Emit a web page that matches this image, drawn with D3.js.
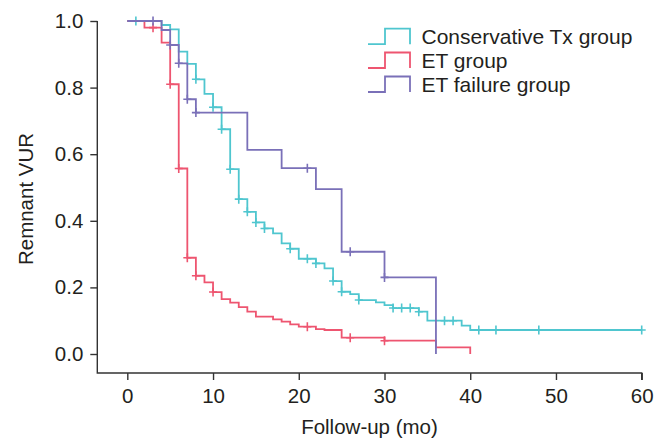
<!DOCTYPE html>
<html>
<head>
<meta charset="utf-8">
<script src="https://cdn.jsdelivr.net/npm/d3@7"></script>
<style>
  html, body { margin: 0; padding: 0; background: #fff; }
  svg { display: block; }
  text { font-family: "Liberation Sans", Arial, sans-serif; fill: #231f20; }
</style>
</head>
<body>
<svg id="chart" width="664" height="442"></svg>
<script>
// ---------- data ----------
const seriesNames = ["Conservative Tx group", "ET group", "ET failure group"];
const seriesColors = ["#4fc6cf", "#ee5570", "#7a70b8"];

// step times (months) and survival after each step
const ctxTimes = [0, 4, 5, 6, 7, 8, 9, 10, 11, 12, 13, 14, 15, 16, 17, 18, 19, 20, 22, 23, 24, 25, 26, 27, 29, 30, 31, 34, 35, 39, 40, 60];
const ctxSurv  = [1.0, 0.988, 0.975, 0.908, 0.871, 0.825, 0.781, 0.741, 0.675, 0.555, 0.465, 0.427, 0.395, 0.377, 0.362, 0.332, 0.316, 0.286, 0.272, 0.257, 0.219, 0.187, 0.18, 0.162, 0.155, 0.147, 0.138, 0.127, 0.1, 0.085, 0.072, 0.072];
const ctxCensor = [1, 8, 10, 11, 12, 13, 14, 15, 16, 19, 21, 22, 24, 25, 27, 31, 32, 33, 34, 37, 38, 41, 43, 48, 60];

const etTimes = [0, 2, 4, 5, 6, 7, 8, 9, 10, 11, 12, 13, 14, 15, 17, 18, 19, 20, 22, 23, 25, 30, 36, 40];
const etSurv  = [1.0, 0.98, 0.935, 0.81, 0.557, 0.289, 0.235, 0.215, 0.186, 0.165, 0.154, 0.141, 0.127, 0.112, 0.104, 0.097, 0.089, 0.082, 0.075, 0.072, 0.049, 0.04, 0.02, 0.0];
const etCensor = [3, 5, 6, 7, 8, 10, 21, 26, 30];

const failTimes = [0, 4, 5, 6, 7, 8, 14, 18, 22, 25, 30, 36];
const failSurv  = [1.0, 0.973, 0.928, 0.873, 0.765, 0.725, 0.613, 0.558, 0.495, 0.307, 0.23, 0.0];
const failCensor = [3, 5, 6, 7, 8, 21, 26, 30];

const xTicks = [0, 10, 20, 30, 40, 50, 60];
const yTicks = [0.0, 0.2, 0.4, 0.6, 0.8, 1.0];
const xTitle = "Follow-up (mo)";
const yTitle = "Remnant VUR";

// ---------- chart ----------
const svg = d3.select("#chart");
const x = d3.scaleLinear().domain([-3.5, 60]).range([97.3, 641.7]);
const y = d3.scaleLinear().domain([0, 1]).range([354, 21]);
const yBottom = 373;

const axisColor = "#333";

// axes
const gx = svg.append("g").attr("transform", `translate(0,${yBottom})`)
  .call(d3.axisBottom(x).tickValues(xTicks).tickFormat(d3.format("d")).tickSize(7).tickPadding(8).tickSizeOuter(0));
const gy = svg.append("g").attr("transform", `translate(${x(-3.5)},0)`)
  .call(d3.axisLeft(y).tickValues(yTicks).tickFormat(d3.format(".1f")).tickSize(7).tickPadding(7).tickSizeOuter(0));
[gx, gy].forEach(g => {
  g.select(".domain").remove();
  g.selectAll(".tick line").attr("stroke", axisColor).attr("stroke-width", 1.4);
  g.selectAll(".tick text").style("font-size", "20.5px").style("font-family", '"Liberation Sans", Arial, sans-serif').attr("fill", "#231f20");
});
// domain lines
svg.append("path")
  .attr("d", `M${x(-3.5)},${y(1)}V${yBottom}H${x(60)}V${yBottom + 7}`)
  .attr("fill", "none").attr("stroke", axisColor).attr("stroke-width", 1.4);

// titles
svg.append("text").attr("x", (x(-3.5) + x(60)) / 2).attr("y", 434)
  .attr("text-anchor", "middle").style("font-size", "20.5px").text(xTitle);
svg.append("text").attr("transform", `translate(33,${(y(1) + yBottom) / 2 + 2}) rotate(-90)`)
  .attr("text-anchor", "middle").style("font-size", "20.5px").text(yTitle);

// curves
const series = [
  { times: ctxTimes, surv: ctxSurv, censor: ctxCensor, color: seriesColors[0] },
  { times: etTimes, surv: etSurv, censor: etCensor, color: seriesColors[1] },
  { times: failTimes, surv: failSurv, censor: failCensor, color: seriesColors[2] }
];

function survAt(s, t) {
  let v = s.surv[0];
  for (let i = 0; i < s.times.length; i++) if (s.times[i] <= t) v = s.surv[i];
  return v;
}

const line = d3.line().x(d => x(d[0])).y(d => y(d[1])).curve(d3.curveStepAfter);

series.forEach(s => {
  const pts = s.times.map((t, i) => [t, s.surv[i]]);
  svg.append("path").attr("d", line(pts))
    .attr("fill", "none").attr("stroke", s.color).attr("stroke-width", 1.8);
  const g = svg.append("g");
  s.censor.forEach(t => {
    const cx = x(t), cy = y(survAt(s, t));
    g.append("path").attr("d", `M${cx - 4},${cy}H${cx + 4}M${cx},${cy - 4.5}V${cy + 4.5}`)
      .attr("stroke", s.color).attr("stroke-width", 1.6).attr("fill", "none");
  });
});

// legend
const legY = [36.7, 60.5, 84.5];
seriesNames.forEach((name, i) => {
  const cy = legY[i];
  svg.append("path")
    .attr("d", `M368,${cy + 7.5}H385V${cy - 8}H410V${cy + 7.5}`)
    .attr("fill", "none").attr("stroke", seriesColors[i]).attr("stroke-width", 1.8);
  svg.append("text").attr("x", 421.5).attr("y", cy + 7.3).style("font-size", "21px").text(name);
});
</script>
</body>
</html>
